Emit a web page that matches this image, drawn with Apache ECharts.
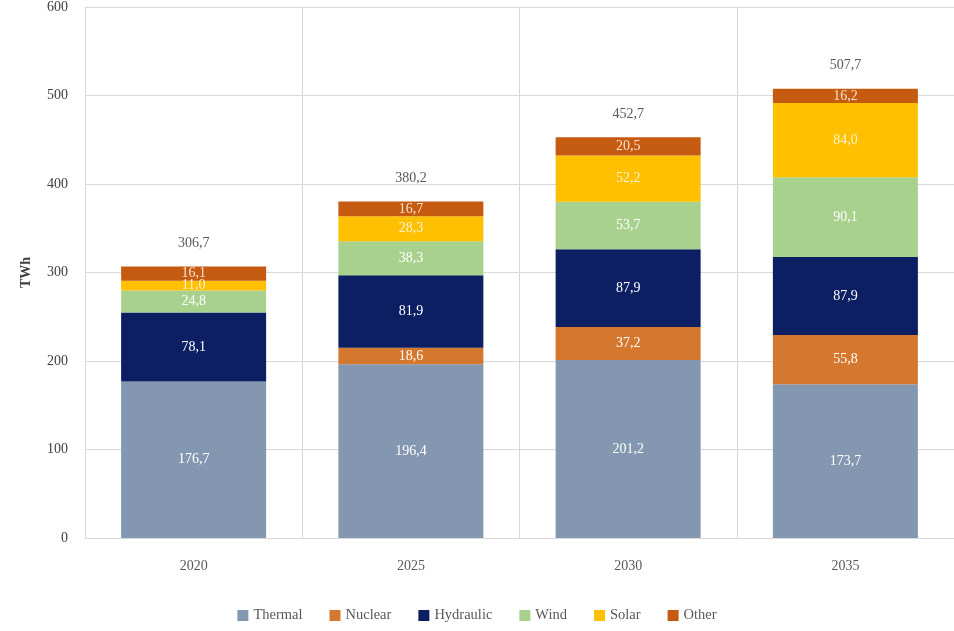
<!DOCTYPE html>
<html><head><meta charset="utf-8">
<script src="https://cdn.jsdelivr.net/npm/echarts@6/dist/echarts.min.js"></script>
<style>html,body{margin:0;padding:0;background:#fff}#c{width:954px;height:631px}</style>
</head><body><div id="c"></div>
<script>
const years = ['2020','2025','2030','2035'];
const thermal = [176.7,196.4,201.2,173.7];
const nuclear = [0,18.6,37.2,55.8];
const hydraulic = [78.1,81.9,87.9,87.9];
const wind = [24.8,38.3,53.7,90.1];
const solar = [11.0,28.3,52.2,84.0];
const other = [16.1,16.7,20.5,16.2];
const totals = [306.7,380.2,452.7,507.7];
const yTicks = [0,100,200,300,400,500,600];

const font = 'Liberation Serif';
const fmt = v => v.toFixed(1).replace('.', ',');
function mk(name, data, color, lblColor){
  return {name, type:'bar', stack:'s', data, barWidth:145,
    itemStyle:{color},
    label:{show:true, position:'inside', color:lblColor||'#fff', fontFamily:font, fontSize:14,
      formatter:p=> p.value ? fmt(p.value) : ''}};
}
const chart = echarts.init(document.getElementById('c'));
chart.setOption({
  animation:false,
  grid:{left:85, width:870, top:3, bottom:93},
  legend:{bottom:3, left:'center', itemWidth:11, itemHeight:11, itemGap:27,
    icon:'rect', textStyle:{fontFamily:font, fontSize:14.5, color:'#595959'},
    data:['Thermal','Nuclear','Hydraulic','Wind','Solar','Other']},
  xAxis:{type:'category', data:years,
    axisLine:{lineStyle:{color:'#d9d9d9'}}, axisTick:{show:false},
    splitLine:{show:true, interval:0, lineStyle:{color:'#d9d9d9'}},
    axisLabel:{fontFamily:font, fontSize:14, color:'#595959', margin:21}},
  yAxis:{type:'value', min:yTicks[0], max:yTicks[yTicks.length-1], interval:100,
    name:'TWh', nameLocation:'middle', nameGap:52, nameRotate:90,
    nameTextStyle:{fontFamily:font, fontSize:14, fontWeight:'bold', color:'#404040'},
    axisLine:{show:true, lineStyle:{color:'#d9d9d9'}}, axisTick:{show:false},
    splitLine:{lineStyle:{color:'#d9d9d9'}},
    axisLabel:{fontFamily:font, fontSize:14, color:'#404040', margin:17}},
  series:[
    mk('Thermal', thermal, '#8497B0'),
    mk('Nuclear', nuclear, '#D5782F'),
    mk('Hydraulic', hydraulic, '#0B1F62'),
    mk('Wind', wind, '#A9D18E'),
    mk('Solar', solar, '#FFC000', '#FFF2CC'),
    mk('Other', other, '#C55A11', '#FBE3D0'),
    {name:'Total', type:'bar', data:totals, barWidth:145, barGap:'-100%', z:0,
      itemStyle:{color:'rgba(0,0,0,0)'},
      label:{show:true, position:'top', distance:16, fontFamily:font, fontSize:14, color:'#595959',
        formatter:p=>fmt(p.value)}}
  ]
});
</script></body></html>
